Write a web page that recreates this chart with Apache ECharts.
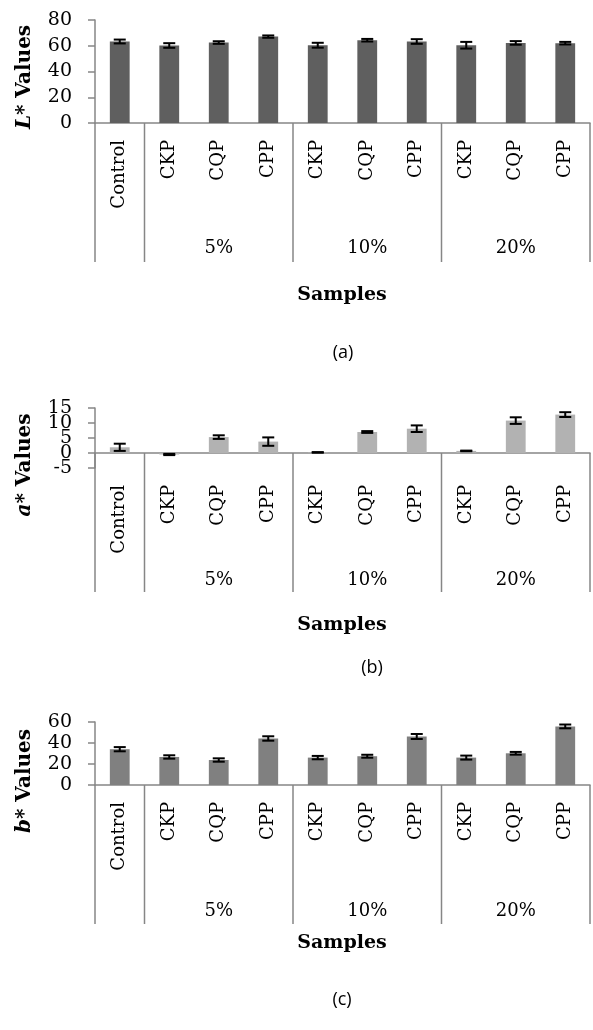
<!DOCTYPE html>
<html>
<head>
<meta charset="utf-8">
<script src="https://cdn.jsdelivr.net/npm/echarts@6/dist/echarts.min.js"></script>
<style>
  html, body { margin: 0; padding: 0; background: #fff; }
  #chart { width: 593px; height: 1030px; }
</style>
</head>
<body>
<div id="chart"></div>
<script>
// categories
const samples = ['Control', 'CKP', 'CQP', 'CPP', 'CKP', 'CQP', 'CPP', 'CKP', 'CQP', 'CPP']
const groupNames = ['5%', '10%', '20%']
const groupStarts = [0, 1, 4, 7, 10]   // block edges (Control | 5% | 10% | 20% | end)

// L* values
const lValues = [63.3, 60.2, 62.5, 67.1, 60.4, 64.3, 63.3, 60.4, 62.2, 62.0]
const lErrors = [1.5, 1.8, 1.0, 0.9, 1.9, 1.0, 1.8, 2.6, 1.4, 1.0]
// a* values
const aValues = [1.9, -0.5, 5.3, 3.8, 0.2, 7.0, 8.1, 0.7, 10.8, 12.8]
const aErrors = [1.2, 0.2, 0.6, 1.4, 0.1, 0.3, 1.1, 0.1, 1.1, 0.8]
// b* values
const bValues = [34.1, 26.7, 23.8, 44.3, 26.1, 27.4, 46.2, 26.1, 30.2, 55.8]
const bErrors = [2.0, 1.6, 1.6, 2.1, 1.6, 1.4, 2.4, 1.9, 1.3, 1.8]

// y ticks: min, max, step
const lTicks = [0, 80, 20]
const aTicks = [-5, 15, 5]
const bTicks = [0, 60, 20]
// a* tick labels (they overlap in the original, echarts would thin them)
const aTickLabels = [-5, 0, 5, 10, 15]

// each block name sits under the middle category of its block
const groupLabels = samples.map(() => '')
groupNames.forEach((name, g) => {
  groupLabels[groupStarts[g + 1] + 1] = name
})

const AXIS = '#868686'
const SERIF = 'DejaVu Serif'

const panels = [
  { values: lValues, errors: lErrors, ticks: lTicks, color: '#5f5f5f', top: 20, height: 103, groupOffset: 125,
    letter: 'L', titleY: 77, samplesY: 295, capY: 353, capX: 343, cap: '(a)' },
  { values: aValues, errors: aErrors, ticks: aTicks, tickLabels: aTickLabels, color: '#b2b2b2', top: 408, height: 60, groupOffset: 112,
    letter: 'a', titleY: 465, samplesY: 625, capY: 668, capX: 372, cap: '(b)' },
  { values: bValues, errors: bErrors, ticks: bTicks, color: '#808080', top: 722, height: 63, groupOffset: 126,
    letter: 'b', titleY: 781, samplesY: 943, capY: 1000, capX: 342, cap: '(c)' }
]

const errorItem = (params, api) => {
  const x = api.value(0)
  const v = api.value(1)
  const e = api.value(2)
  const hi = api.coord([x, v + e])
  const lo = api.coord([x, v - e])
  const w = 6
  const style = { stroke: '#000', lineWidth: 2 }
  return {
    type: 'group',
    children: [
      { type: 'line', shape: { x1: hi[0], y1: hi[1], x2: lo[0], y2: lo[1] }, style },
      { type: 'line', shape: { x1: hi[0] - w, y1: hi[1], x2: hi[0] + w, y2: hi[1] }, style },
      { type: 'line', shape: { x1: lo[0] - w, y1: lo[1], x2: lo[0] + w, y2: lo[1] }, style }
    ]
  }
}

// vertical block separators hanging below the category axis
const separatorItem = (params, api) => {
  const b = api.value(0)
  const band = api.size([1, 0])[0]
  const n = samples.length
  const x = b < n ? api.coord([b, 0])[0] - band / 2 : api.coord([n - 1, 0])[0] + band / 2
  const y = api.coord([0, 0])[1]
  return {
    type: 'line',
    shape: { x1: x, y1: y, x2: x, y2: y + 139 },
    style: { stroke: AXIS, lineWidth: 1.5 }
  }
}

// y tick + label placed on the value scale (used where all labels must show)
const tickLabelItem = (params, api) => {
  const v = api.value(0)
  const band = api.size([1, 0])[0]
  const pt = api.coord([0, v])
  const x = pt[0] - band / 2
  return {
    type: 'group',
    children: [
      { type: 'line', shape: { x1: x - 7, y1: pt[1], x2: x, y2: pt[1] }, style: { stroke: AXIS, lineWidth: 1.5 } },
      {
        type: 'text',
        x: x - 23,
        y: pt[1],
        style: { text: String(v), align: 'right', verticalAlign: 'middle', fontFamily: SERIF, fontSize: 19, fill: '#000' }
      }
    ]
  }
}

const grid = []
const xAxis = []
const yAxis = []
const series = []
const graphic = []

panels.forEach((p, k) => {
  grid.push({ left: 95, right: 3, top: p.top, height: p.height })

  xAxis.push({
    type: 'category',
    gridIndex: k,
    data: samples,
    axisLine: { lineStyle: { color: AXIS, width: 1.5 } },
    axisTick: { show: false },
    axisLabel: { interval: 0, rotate: 90, margin: 17, color: '#000', fontFamily: SERIF, fontSize: 18 }
  })
  xAxis.push({
    type: 'category',
    gridIndex: k,
    position: 'bottom',
    offset: p.groupOffset,
    data: groupLabels,
    axisLine: { show: false, onZero: false },
    axisTick: { show: false },
    axisLabel: { interval: 0, margin: 0, verticalAlign: 'middle', color: '#000', fontFamily: SERIF, fontSize: 18 }
  })

  const ownLabels = !!p.tickLabels
  yAxis.push({
    type: 'value',
    gridIndex: k,
    min: p.ticks[0],
    max: p.ticks[1],
    interval: p.ticks[2],
    splitLine: { show: false },
    axisLine: { show: true, lineStyle: { color: AXIS, width: 1.5 } },
    axisTick: { show: !ownLabels, length: 7, lineStyle: { color: AXIS, width: 1.5 } },
    axisLabel: { show: !ownLabels, margin: 23, color: '#000', fontFamily: SERIF, fontSize: 19 }
  })

  series.push({
    type: 'bar',
    xAxisIndex: 2 * k,
    yAxisIndex: k,
    barWidth: '40%',
    itemStyle: { color: p.color },
    data: p.values
  })
  series.push({
    type: 'custom',
    xAxisIndex: 2 * k,
    yAxisIndex: k,
    renderItem: errorItem,
    encode: { x: 0, y: 1 },
    data: p.values.map((v, i) => [i, v, p.errors[i]]),
    z: 5
  })
  series.push({
    type: 'custom',
    xAxisIndex: 2 * k,
    yAxisIndex: k,
    renderItem: separatorItem,
    clip: false,
    silent: true,
    data: groupStarts.map((b) => [b]),
    z: 4
  })
  if (ownLabels) {
    series.push({
      type: 'custom',
      xAxisIndex: 2 * k,
      yAxisIndex: k,
      renderItem: tickLabelItem,
      clip: false,
      silent: true,
      encode: { y: 0 },
      data: p.tickLabels.map((v) => [v]),
      z: 4
    })
  }

  graphic.push({
    type: 'text',
    x: 25,
    y: p.titleY,
    rotation: Math.PI / 2,
    style: {
      text: '{i|' + p.letter + '}{b|* Values}',
      align: 'center',
      verticalAlign: 'middle',
      rich: {
        i: { fontFamily: SERIF, fontSize: 20, fontWeight: 'bold', fontStyle: 'italic', fill: '#000' },
        b: { fontFamily: SERIF, fontSize: 20, fontWeight: 'bold', fill: '#000' }
      }
    }
  })
  graphic.push({
    type: 'text',
    x: 342,
    y: p.samplesY,
    style: { text: 'Samples', align: 'center', verticalAlign: 'middle', fontFamily: SERIF, fontSize: 19, fontWeight: 'bold', fill: '#000' }
  })
  graphic.push({
    type: 'text',
    x: p.capX,
    y: p.capY,
    style: { text: p.cap, align: 'center', verticalAlign: 'middle', fontFamily: 'Open Sans', fontSize: 18, fill: '#000' }
  })
})

const chart = echarts.init(document.getElementById('chart'), null, { renderer: 'canvas' })
chart.setOption({
  animation: false,
  backgroundColor: '#fff',
  grid,
  xAxis,
  yAxis,
  series,
  graphic
})
</script>
</body>
</html>
